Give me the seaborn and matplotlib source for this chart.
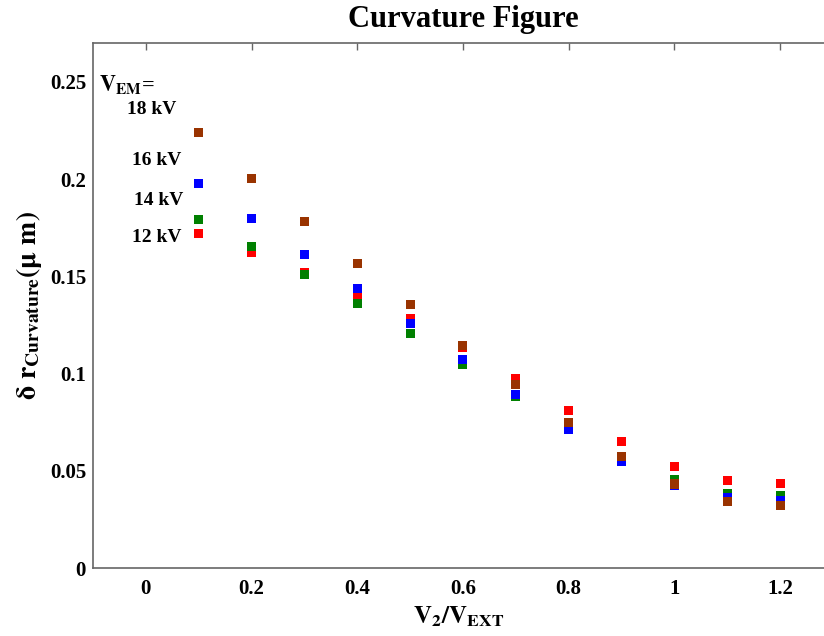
import numpy as np
import pandas as pd
import matplotlib
matplotlib.use("Agg")
import matplotlib.pyplot as plt
import seaborn as sns

# Data
ratios = [0.1, 0.2, 0.3, 0.4, 0.5, 0.6, 0.7, 0.8, 0.9, 1.0, 1.1, 1.2]
v12 = [0.172, 0.1622, 0.1521, 0.1399, 0.1281, 0.1132, 0.0972, 0.0809, 0.0652, 0.0521, 0.0449, 0.0434]
v14 = [0.1792, 0.1651, 0.1511, 0.1362, 0.1207, 0.1048, 0.0880, 0.0730, 0.0560, 0.0456, 0.0382, 0.0372]
v16 = [0.1975, 0.1795, 0.1614, 0.1437, 0.1255, 0.1073, 0.0893, 0.0713, 0.0547, 0.0425, 0.0364, 0.0346]
v18 = [0.2238, 0.2001, 0.1780, 0.1565, 0.1353, 0.1144, 0.0946, 0.0749, 0.0573, 0.0432, 0.0343, 0.0322]
series_names = ["12 kV", "14 kV", "16 kV", "18 kV"]
series_colors = ["#ff0000", "#008000", "#0000ff", "#993300"]
xticks = [0, 0.2, 0.4, 0.6, 0.8, 1, 1.2]
yticks = [0, 0.05, 0.1, 0.15, 0.2, 0.25]

rows = []
for name, vals in zip(series_names, [v12, v14, v16, v18]):
    for x, y in zip(ratios, vals):
        rows.append({"ratio": x, "val": y, "V": name})
df = pd.DataFrame(rows)

sns.set_style("white")
plt.rcParams['font.family'] = ['Liberation Serif', 'DejaVu Serif']
plt.rcParams['font.weight'] = 'bold'
plt.rcParams['mathtext.fontset'] = 'stix'
plt.rcParams['text.color'] = 'black'
plt.rcParams['axes.labelcolor'] = 'black'
plt.rcParams['xtick.labelcolor'] = 'black'
plt.rcParams['ytick.labelcolor'] = 'black'

fig = plt.figure(figsize=(8.24, 6.36), dpi=100)
ax = fig.add_axes([93/824, 68/636, 1 - 93/824, (568-43)/636])

sns.scatterplot(data=df, x="ratio", y="val", hue="V", hue_order=series_names,
                palette=dict(zip(series_names, series_colors)), marker="s",
                s=42, linewidth=0, legend=False, ax=ax)

ax.set_xlim(-0.1, 1.283)
ax.set_ylim(0, 0.27)
ax.set_xticks(xticks)
ax.set_xticklabels(["0", "0.2", "0.4", "0.6", "0.8", "1", "1.2"])
ax.set_yticks(yticks)
ax.set_yticklabels(["0", "0.05", "0.1", "0.15", "0.2", "0.25"])
ax.tick_params(direction="in", top=True, right=False, length=5, width=1,
               color="#666666", labelcolor="black", labelsize=15)
ax.tick_params(axis="x", pad=8)
ax.tick_params(axis="y", pad=5)
for lab in ax.get_xticklabels() + ax.get_yticklabels():
    lab.set_fontweight("bold")
for side in ["left", "bottom", "top"]:
    ax.spines[side].set_color("#666666")
    ax.spines[side].set_linewidth(1.2)
ax.spines["right"].set_visible(False)

ax.set_xlabel(r"$\mathbf{V_2/V_{EXT}}$", fontsize=18, labelpad=4, color="black")
ax.set_ylabel(r"$\mathbf{\delta\ r}_{\mathrm{Curvature}}\mathbf{(\mu\ m)}$", fontsize=20, labelpad=4, color="black")
fig.suptitle("Curvature Figure", fontsize=22, fontweight="bold", x=0.562, y=0.992, color="black")

ax.text(-0.089, 0.248, r"$\mathbf{V_{EM}}$=", fontsize=16, va="center", ha="left", color="black")
ax.text(-0.036, 0.2356, "18 kV", fontsize=14, fontweight="bold", va="center", ha="left", color="black")
ax.text(-0.027, 0.2094, "16 kV", fontsize=14, fontweight="bold", va="center", ha="left", color="black")
ax.text(-0.023, 0.1888, "14 kV", fontsize=14, fontweight="bold", va="center", ha="left", color="black")
ax.text(-0.027, 0.1698, "12 kV", fontsize=14, fontweight="bold", va="center", ha="left", color="black")

fig.savefig("out.png", dpi=100)
